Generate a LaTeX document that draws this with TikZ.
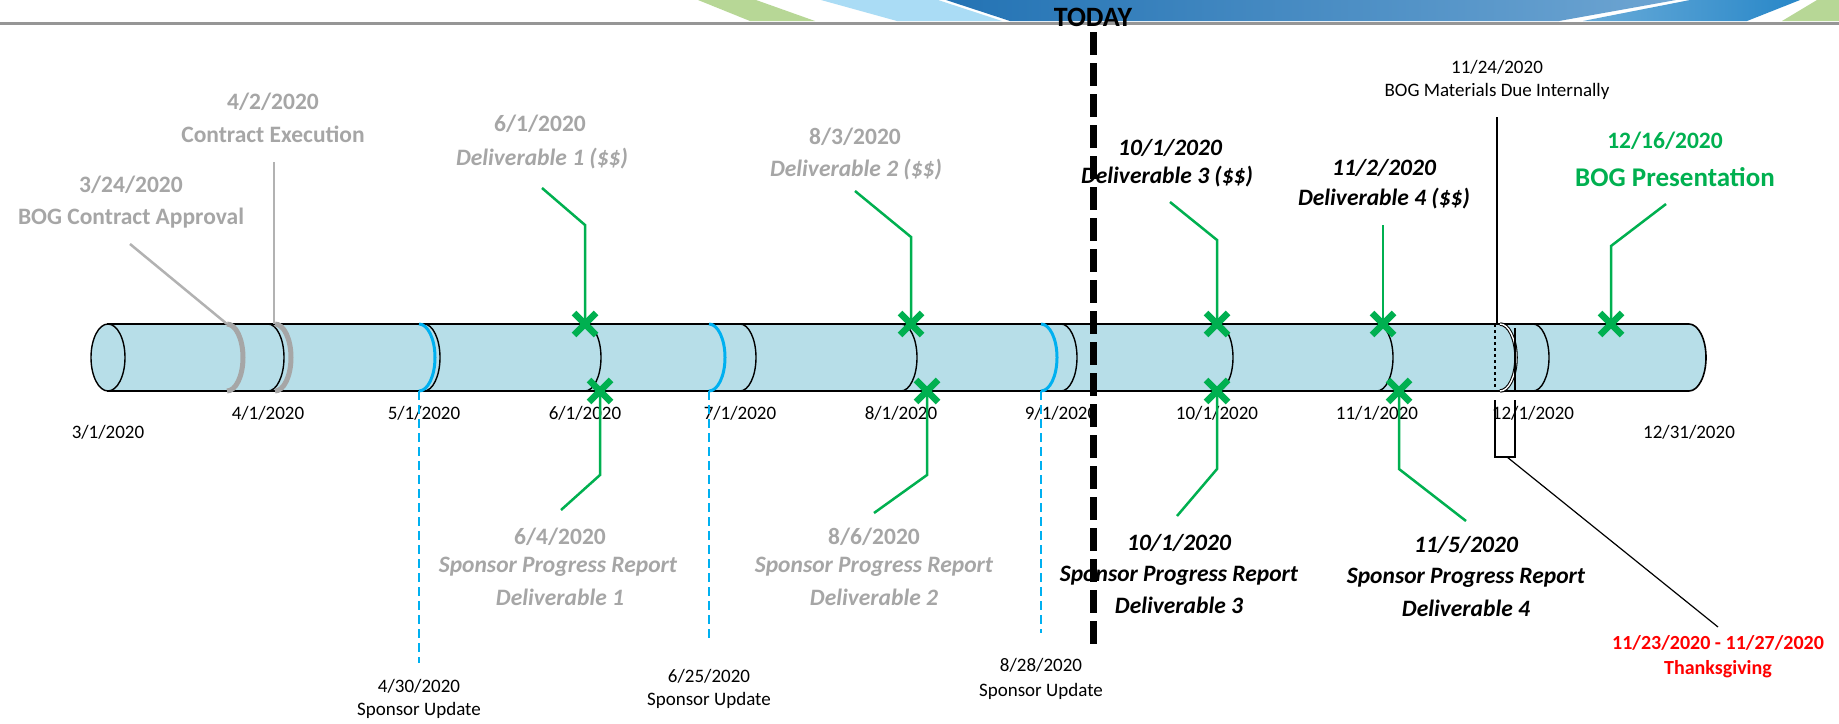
\documentclass[tikz,border=0pt]{standalone}
\usepackage{fontspec}
\setmainfont{Carlito}
\definecolor{cylfill}{RGB}{183,222,232}
\definecolor{ggray}{RGB}{166,166,166}
\definecolor{lgray}{RGB}{178,178,178}
\definecolor{mgreen}{RGB}{0,176,80}
\definecolor{mblue}{RGB}{0,176,240}
\definecolor{mred}{RGB}{255,0,0}
\definecolor{bnrgreen}{RGB}{183,215,150}
\definecolor{bnrlblue}{RGB}{170,220,245}
\definecolor{bnrdblueA}{RGB}{35,115,180}
\definecolor{bnrdblueB}{RGB}{110,165,210}
\definecolor{bnrblueC}{RGB}{40,135,200}
\definecolor{bnrline}{RGB}{150,150,150}
\newcommand\marc[2][]{\draw[#1] (#2,324) .. controls ({#2+8.8},324) and ({#2+16},339) .. ({#2+16},357.5) .. controls ({#2+16},376) and ({#2+8.8},391) .. (#2,391);}
\tikzset{
  smalltxt/.style={inner sep=0pt, font=\fontsize{19}{21}\selectfont},
  graybold/.style={inner sep=0pt, text=ggray, font=\fontsize{23.5}{25}\selectfont\bfseries},
  grayital/.style={inner sep=0pt, text=ggray, font=\fontsize{23.5}{25}\selectfont\bfseries\itshape},
  blackital/.style={inner sep=0pt, text=black, font=\fontsize{23.5}{25}\selectfont\bfseries\itshape},
  greenbold/.style={inner sep=0pt, text=mgreen, font=\fontsize{23.5}{25}\selectfont\bfseries},
  greenbig/.style={inner sep=0pt, text=mgreen, font=\fontsize{27}{29}\selectfont\bfseries},
  redbold/.style={inner sep=0pt, text=mred, font=\fontsize{20}{22}\selectfont\bfseries},
  callg/.style={mgreen, line width=2.5pt},
  callgray/.style={lgray, line width=2.5pt},
  sponsorline/.style={mblue, line width=1.5pt, dash pattern=on 9pt off 5pt},
  xcross/.pic={\draw[mgreen, line width=6.5pt] (-11,-11)--(11,11) (-11,11)--(11,-11);}
}
\begin{document}
\begin{tikzpicture}[x=1pt, y=-1pt]
\useasboundingbox (0,0) rectangle (1839,723);
\fill[white] (0,0) rectangle (1839,723);
% banner
\fill[bnrgreen] (698,0)--(756,0)--(815,21)--(750,21)--cycle;
\fill[bnrlblue] (821,0)--(938,0)--(1002,21)--(897,21)--cycle;
\shade[left color=bnrdblueA, right color=bnrdblueB] (946,0)--(1676,0)--(1559,21)--(1010,21)--cycle;
\shade[left color=bnrblueC!70!white, right color=bnrblueC] (1690,0)--(1800,0)--(1747,21)--(1583,21)--cycle;
\fill[bnrgreen] (1817,0)--(1839,0)--(1839,21)--(1782,21)--cycle;
\draw[bnrline, line width=3pt] (0,23)--(1839,23);
% cylinder
\filldraw[fill=cylfill, draw=black, line width=1.6pt] (108,324) -- (1689,324) .. controls (1698.4,324) and (1706,339) .. (1706,357.5) .. controls (1706,376) and (1698.4,391) .. (1689,391) -- (108,391) -- cycle;
\filldraw[fill=cylfill, draw=black, line width=1.4pt] (108,357.5) ellipse [x radius=17, y radius=33.5];
\foreach \mx in {268,424,585,740,901,1061,1217,1377,1533} {\marc[line width=1.4pt]{\mx}}
\marc[ggray, line width=5pt]{227}
\marc[ggray, line width=5pt]{275}
\marc[mblue, line width=3pt]{419}
\marc[mblue, line width=3pt]{709}
\marc[mblue, line width=3pt]{1041}
% Thanksgiving week
\draw[line width=1.2pt, dashed] (1495,324)--(1495,391);
\marc[line width=3.5pt]{1500}
\marc[white, line width=1.4pt]{1500}
\draw[line width=1.2pt] (1515,328)--(1515,391);
\draw[line width=1.2pt] (1495,400)--(1495,457)--(1515,457)--(1515,400);
\coordinate (tgbox) at (1507,457);
% month labels
\node[smalltxt] (m3) at (108,432) {3/1/2020};
\node[smalltxt] (m4) at (268,413) {4/1/2020};
\node[smalltxt] (m5) at (424,413) {5/1/2020};
\node[smalltxt] (m6) at (585,413) {6/1/2020};
\node[smalltxt] (m7) at (740,413) {7/1/2020};
\node[smalltxt] (m8) at (901,413) {8/1/2020};
\node[smalltxt] (m9) at (1061,413) {9/1/2020};
\node[smalltxt] (m10) at (1217,413) {10/1/2020};
\node[smalltxt] (m11) at (1377,413) {11/1/2020};
\node[smalltxt] (m12) at (1533,413) {12/1/2020};
\node[smalltxt] (m13) at (1689,432) {12/31/2020};
% sponsor updates
\node[smalltxt] (su1d) at (419,686) {4/30/2020};
\node[smalltxt] (su1t) at (419,710) {Sponsor Update};
\node[smalltxt] (su2d) at (709,676) {6/25/2020};
\node[smalltxt] (su2t) at (709,700) {Sponsor Update};
\node[smalltxt] (su3d) at (1041,665) {8/28/2020};
\node[smalltxt] (su3t) at (1041,691) {Sponsor Update};
\draw[sponsorline] (419,391) -- (419,663);
\draw[sponsorline] (709,391) -- (709,639);
\draw[sponsorline] (1041,391) -- (1041,633);
% BOG materials
\node[smalltxt] (bm1) at (1497,67) {11/24/2020};
\node[smalltxt] (bm2) at (1497,91) {BOG Materials Due Internally};
\draw[line width=1.2pt] (1497,117) -- (1497,324);
% gray milestones
\node[graybold] (ca1) at (131,185) {3/24/2020};
\node[graybold] (ca2) at (131,218) {BOG Contract Approval};
\node[graybold] (ce1) at (273,102) {4/2/2020};
\node[graybold] (ce2) at (273,134) {Contract Execution};
\draw[callgray] (130,244) -- (227,324);
\draw[callgray] (274,162) -- (274,324);
\node[graybold] (d1a) at (540,124) {6/1/2020};
\node[grayital] (d1b) at (542,159) {Deliverable 1 (\$\$)};
\node[graybold] (d2a) at (855,137) {8/3/2020};
\node[grayital] (d2b) at (856,170) {Deliverable 2 (\$\$)};
\node[graybold] (r1a) at (560,537) {6/4/2020};
\node[grayital] (r1b) at (558,567) {Sponsor Progress Report};
\node[grayital] (r1c) at (560,597) {Deliverable 1};
\node[graybold] (r2a) at (874,537) {8/6/2020};
\node[grayital] (r2b) at (874,567) {Sponsor Progress Report};
\node[grayital] (r2c) at (874,597) {Deliverable 2};
% black milestones
\node[blackital] (d3a) at (1170,148) {10/1/2020};
\node[blackital] (d3b) at (1167,177) {Deliverable 3 (\$\$)};
\node[blackital] (d4a) at (1384,168) {11/2/2020};
\node[blackital] (d4b) at (1384,199) {Deliverable 4 (\$\$)};
\node[blackital] (r3a) at (1179,543) {10/1/2020};
\node[blackital] (r3b) at (1179,576) {Sponsor Progress Report};
\node[blackital] (r3c) at (1179,605) {Deliverable 3};
\node[blackital] (r4a) at (1466,545) {11/5/2020};
\node[blackital] (r4b) at (1466,578) {Sponsor Progress Report};
\node[blackital] (r4c) at (1466,608) {Deliverable 4};
% presentation
\node[greenbold] (bp1) at (1665,141) {12/16/2020};
\node[greenbig] (bp2) at (1675,177) {BOG Presentation};
% thanksgiving
\node[redbold] (tg1) at (1718,643) {11/23/2020 - 11/27/2020};
\node[redbold] (tg2) at (1718,669) {Thanksgiving};
\draw[line width=1.2pt] (tgbox) -- (1718,627);
% green callouts
\coordinate (xd1) at (585,324);
\coordinate (xd2) at (911,324);
\coordinate (xd3) at (1217,324);
\coordinate (xd4) at (1383,324);
\coordinate (xbp) at (1611,324);
\coordinate (xr1) at (600,391);
\coordinate (xr2) at (927,391);
\coordinate (xr3) at (1217,391);
\coordinate (xr4) at (1399,391);
\draw[callg] (xd1) -- (585,225) -- (542,188);
\draw[callg] (xd2) -- (911,237) -- (855,191);
\draw[callg] (xd3) -- (1217,240) -- (1170,202);
\draw[callg] (xd4) -- (1383,225);
\draw[callg] (xbp) -- (1611,246) -- (1666,204);
\draw[callg] (xr1) -- (600,475) -- (561,510);
\draw[callg] (xr2) -- (927,475) -- (874,513);
\draw[callg] (xr3) -- (1217,469) -- (1177,516);
\draw[callg] (xr4) -- (1399,469) -- (1466,521);
\foreach \c in {xd1,xd2,xd3,xd4,xbp,xr1,xr2,xr3,xr4} {\pic at (\c) {xcross};}
% today
\draw[line width=7pt, dash pattern=on 23pt off 8pt] (1093,32) -- (1093,648);
\node[inner sep=0pt, font=\fontsize{28}{30}\selectfont\bfseries] (today) at (1093,17) {TODAY};
\end{tikzpicture}
\end{document}
